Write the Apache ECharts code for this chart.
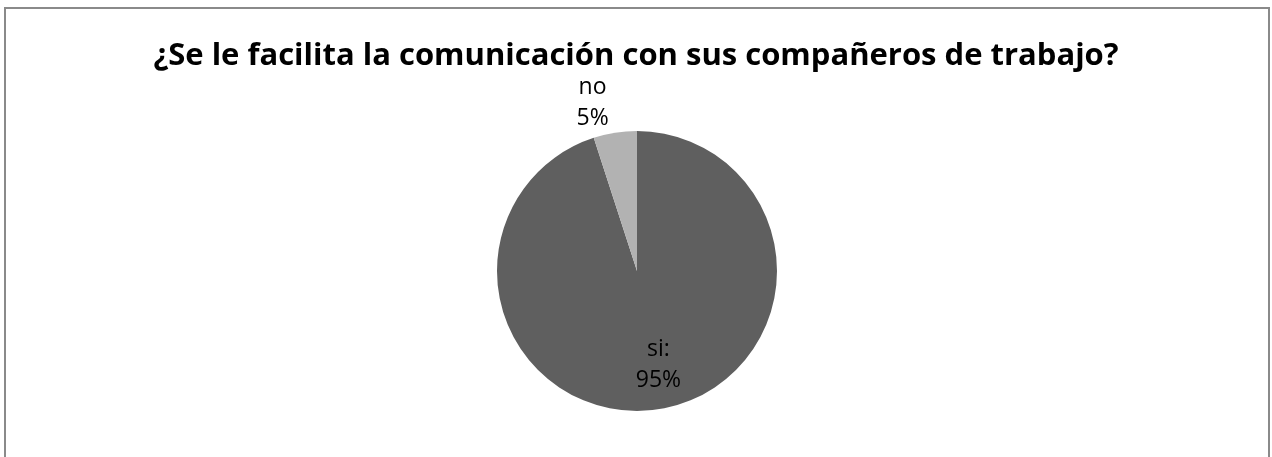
<!DOCTYPE html>
<html>
<head>
<meta charset="utf-8">
<style>
  html, body { margin: 0; padding: 0; background: #fff; }
  #chart { width: 1272px; height: 457px; }
</style>
<script src="https://cdn.jsdelivr.net/npm/echarts@6/dist/echarts.min.js"></script>
</head>
<body>
<div id="chart"></div>
<script>
// Survey answers and their shares
const categories = ['si:', 'no'];
const values = [95, 5];
const sliceColors = ['#5f5f5f', '#b2b2b2'];
const titleText = '¿Se le facilita la comunicación con sus compañeros de trabajo?';

const chart = echarts.init(document.getElementById('chart'));

// Nudges for the value labels relative to each slice's inside anchor
const labelOffsets = [[10, 22], [-33, -96]];

chart.setOption({
  animation: false,
  backgroundColor: '#ffffff',
  title: {
    text: titleText,
    left: 'center',
    top: 36,
    textStyle: {
      fontFamily: 'Open Sans',
      fontWeight: 'bold',
      fontSize: 31,
      color: '#000'
    }
  },
  graphic: [{
    type: 'rect',
    shape: { x: 5, y: 8, width: 1264, height: 470 },
    style: { fill: 'none', stroke: '#8a8a8a', lineWidth: 2 },
    silent: true
  }],
  series: [{
    type: 'pie',
    center: [637, 271],
    radius: 140,
    startAngle: 90,
    clockwise: true,
    avoidLabelOverlap: false,
    labelLine: { show: false },
    data: categories.map((name, i) => ({
      name: name,
      value: values[i],
      itemStyle: { color: sliceColors[i] },
      label: {
        show: true,
        position: 'inside',
        offset: labelOffsets[i],
        formatter: '{b}\n{c}%',
        fontFamily: 'Open Sans',
        fontSize: 23,
        lineHeight: 31,
        color: '#000',
        align: 'center'
      }
    }))
  }]
});
</script>
</body>
</html>
